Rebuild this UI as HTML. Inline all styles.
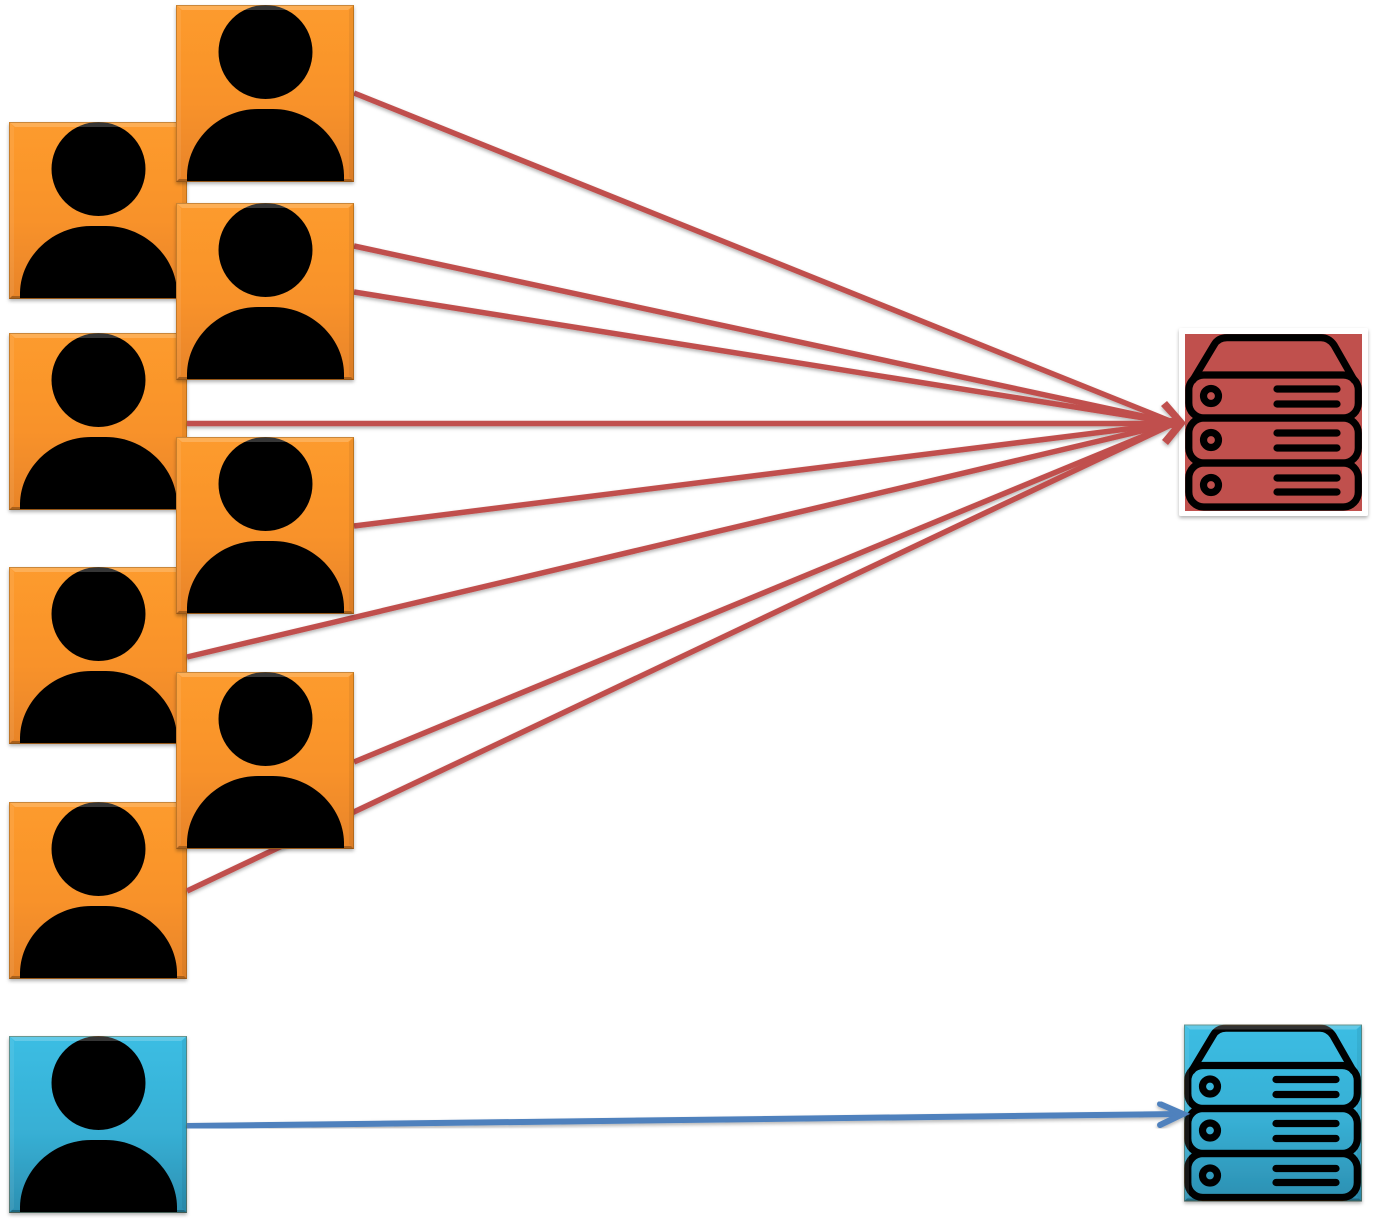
<!DOCTYPE html>
<html>
<head>
<meta charset="utf-8">
<style>
html,body{margin:0;padding:0;background:#fff;}
svg{display:block;}
</style>
</head>
<body>
<svg xmlns="http://www.w3.org/2000/svg" width="1376" height="1226" viewBox="0 0 1376 1226">
<defs>
<linearGradient id="o" x1="0" y1="0" x2="0" y2="1">
<stop offset="0" stop-color="#fd9b2d"/><stop offset=".55" stop-color="#f8922b"/><stop offset="1" stop-color="#e88428"/>
</linearGradient>
<linearGradient id="b" x1="0" y1="0" x2="0" y2="1">
<stop offset="0" stop-color="#3bbde3"/><stop offset=".55" stop-color="#37afd4"/><stop offset="1" stop-color="#2c8fb1"/>
</linearGradient>
<filter id="s" x="-10%" y="-10%" width="120%" height="120%">
<feDropShadow dx="0" dy="2" stdDeviation="1.800" flood-color="#000" flood-opacity=".3"/>
</filter>
<g id="bevel">
<polygon points="0,0 178,0 172,5 6,5" fill="#fff" opacity=".2"/>
<polygon points="0,0 5,5 5,172 0,177" fill="#fff" opacity=".08"/>
<polygon points="178,0 173,5 173,172 178,177" fill="#000" opacity=".06"/>
<polygon points="0,177 3,174 175,174 178,177" fill="#000" opacity=".28"/>
<rect x=".5" y=".5" width="177" height="176" fill="none" stroke="#7a4a10" stroke-opacity=".4"/>
</g>
<g id="person">
<circle cx="89.500" cy="47" r="47" fill="#040404"/>
<path d="M11,176 L11,170 C12,134 44,104 82,104 L97,104 C135,104 167,134 168,170 L168,176 Z" fill="#040404"/>
</g>
<g id="po" filter="url(#s)">
<rect width="178" height="177" fill="url(#o)"/>
<use href="#person"/>
<use href="#bevel"/>
</g>
<g id="pb" filter="url(#s)">
<rect width="178" height="177" fill="url(#b)"/>
<use href="#person"/>
<use href="#bevel"/>
</g>
<g id="server" fill="none" stroke="#000" stroke-width="7.200" stroke-linecap="round" stroke-linejoin="round">
<path d="M8,46 L29,11 Q33,3.700 42,3.700 L136,3.700 Q144,3.700 149,11 L169,46"/>
<rect x="3.800" y="41" width="169.500" height="43" rx="15"/>
<rect x="3.800" y="84" width="169.500" height="45" rx="15"/>
<rect x="3.800" y="129" width="169.500" height="44" rx="15"/>
<circle cx="26" cy="62" r="7.500"/>
<circle cx="26" cy="106" r="7.500"/>
<circle cx="26" cy="151" r="7.500"/>
<path d="M92,55H152M92,70H152M92,99H152M92,114H152M92,144H152M92,158H152"/>
</g>
</defs>

<use href="#po" x="9" y="122"/>
<use href="#po" x="9" y="333"/>
<use href="#po" x="9" y="567"/>
<use href="#po" x="9" y="802"/>
<use href="#pb" x="9" y="1036"/>

<g filter="url(#s)">
<rect x="1179" y="328" width="189" height="188" rx="2" fill="#fff"/>
</g>
<rect x="1185" y="334" width="177" height="177" fill="#c0504d"/>
<use href="#server" x="1185" y="334"/>

<g transform="translate(1184,1024.500)" filter="url(#s)">
<rect width="178" height="177" fill="url(#b)"/>
<use href="#server" x="0" y="0"/>
<use href="#bevel"/>
</g>

<g stroke="#c0504d" stroke-width="5.500" fill="none" stroke-linecap="butt" filter="url(#s)">
<line x1="354" y1="93" x2="1175" y2="423"/>
<line x1="354" y1="246" x2="1175" y2="423"/>
<line x1="354" y1="292" x2="1175" y2="423"/>
<line x1="187" y1="423.500" x2="1175" y2="423.500"/>
<line x1="354" y1="526" x2="1175" y2="423"/>
<line x1="187" y1="657" x2="1175" y2="423"/>
<line x1="354" y1="762" x2="1175" y2="423"/>
<line x1="187" y1="891" x2="1175" y2="423"/>
<polygon points="1167,401 1186,423 1168,445 1162,440 1172,428 1150,428 1150,418 1172,418 1161,406" fill="#c0504d" stroke="none"/>
</g>

<use href="#po" x="176" y="5"/>
<use href="#po" x="176" y="203"/>
<use href="#po" x="176" y="437"/>
<use href="#po" x="176" y="672"/>

<g stroke="#4f81bd" fill="none" filter="url(#s)">
<line x1="187" y1="1126" x2="1180" y2="1114" stroke-width="6"/>
<polyline points="1160,1104 1183,1114 1160,1125" stroke-width="6" stroke-linecap="round"/>
</g>
</svg>
</body>
</html>
